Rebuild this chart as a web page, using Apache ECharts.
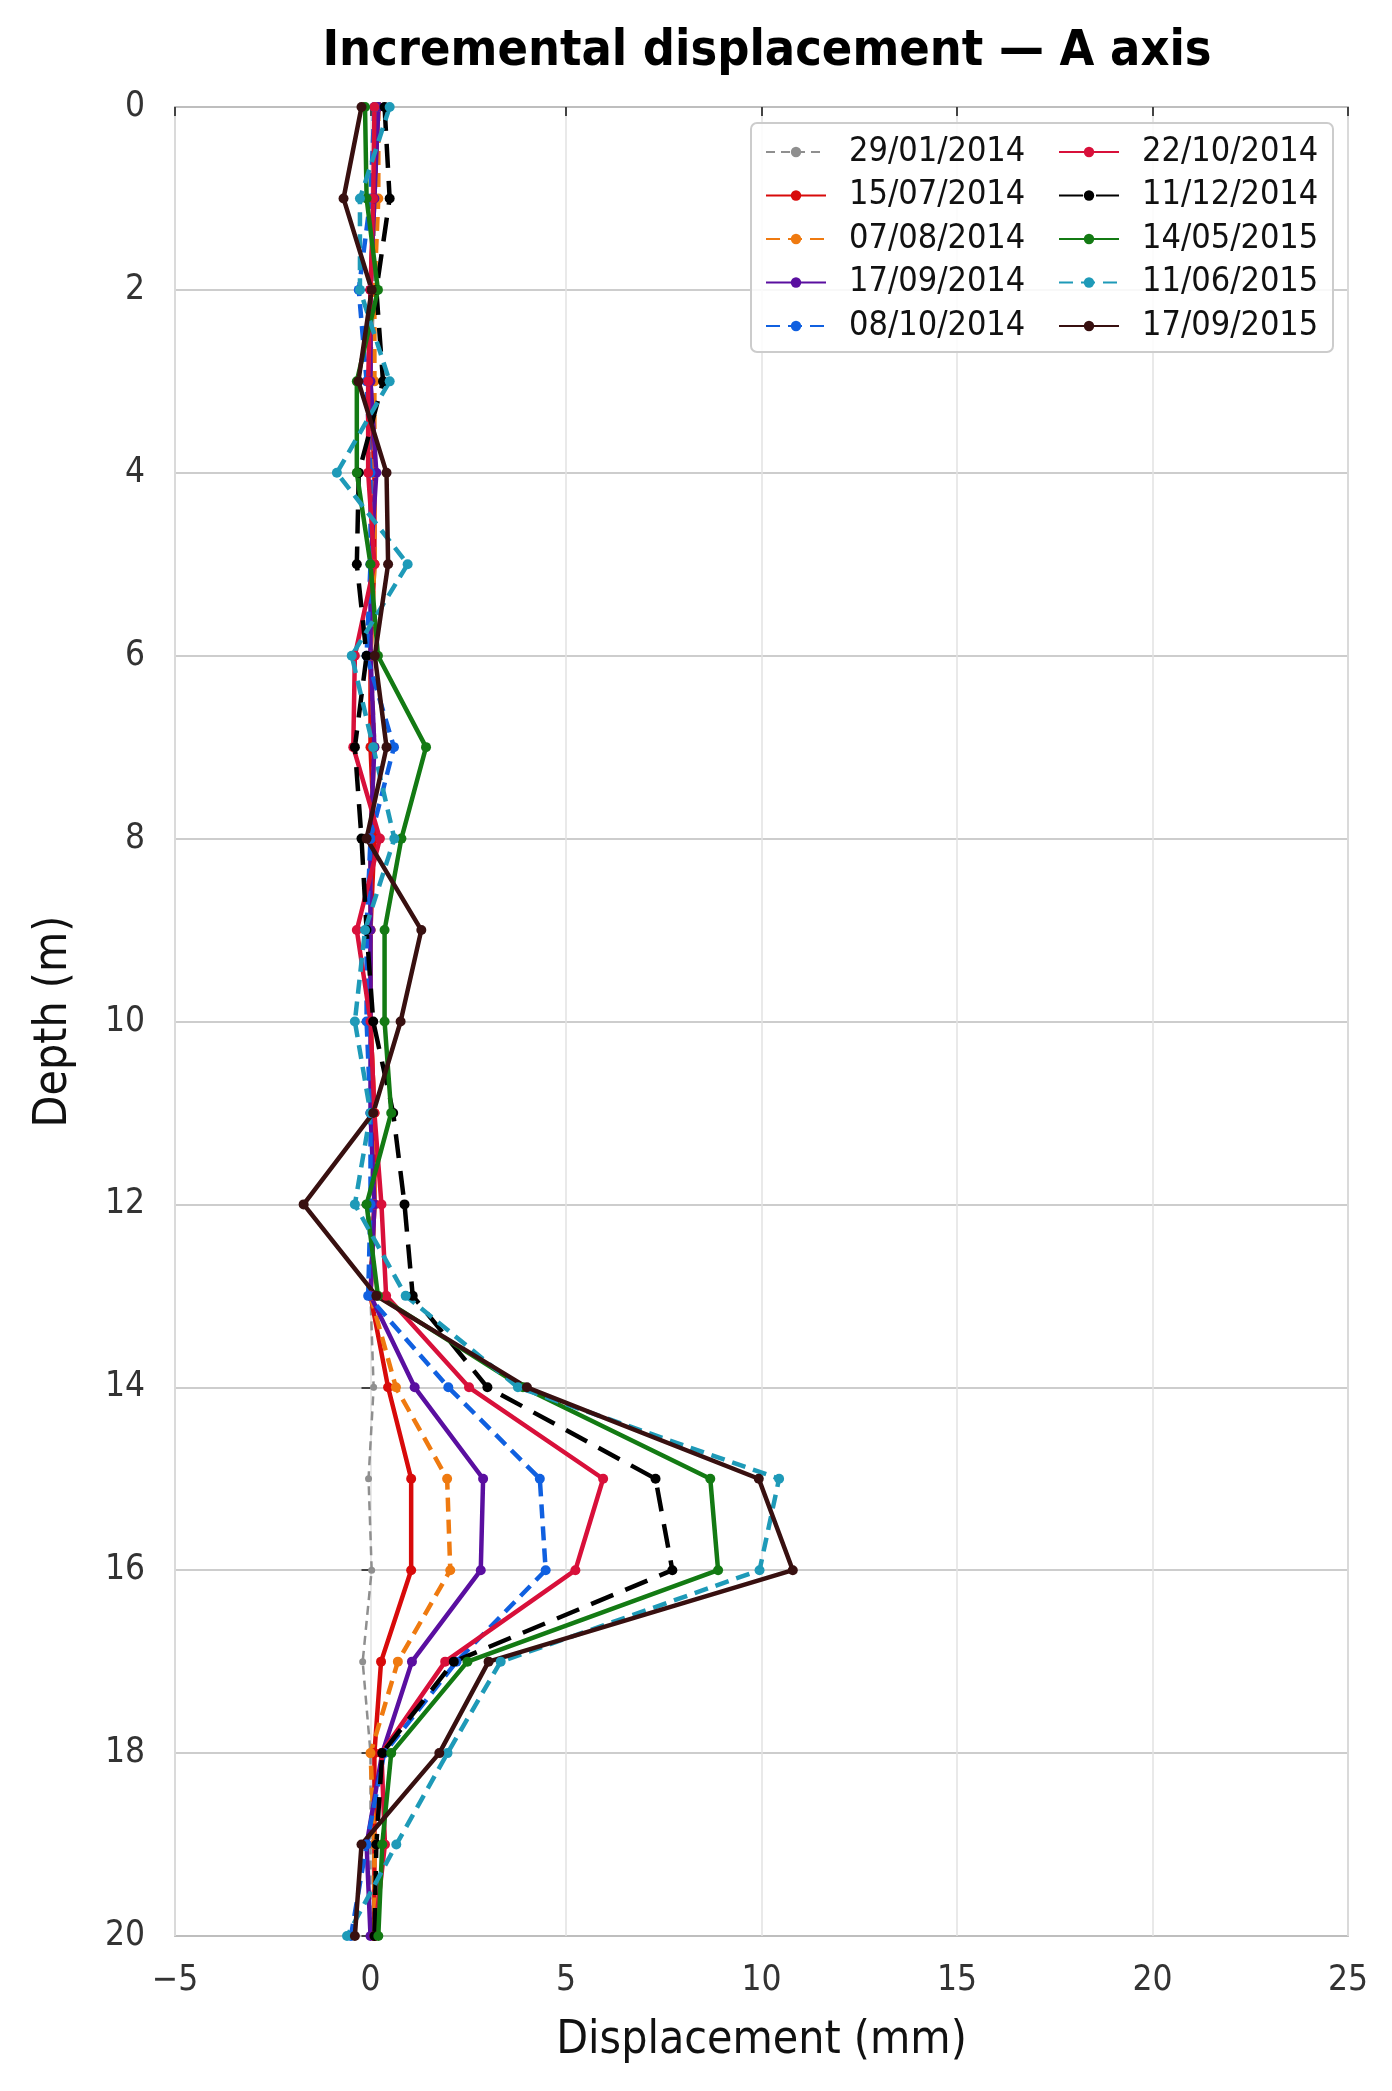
<!DOCTYPE html>
<html>
<head>
<meta charset="utf-8">
<title>Incremental displacement — A axis</title>
<script src="https://cdn.jsdelivr.net/npm/echarts@6/dist/echarts.min.js"></script>
<style>
  html, body { margin: 0; padding: 0; background: #fff; }
  #chart { width: 1392px; height: 2091px; }
</style>
</head>
<body>
<div id="chart"></div>
<script>
// depth of each reading (m)
const depths = [0, 1, 2, 3, 4, 5, 6, 7, 8, 9, 10, 11, 12, 13, 14, 15, 16, 17, 18, 19, 20]

// displacement per survey (mm), one value per depth
const d20140129 = [0.1, 0.1, 0.1, 0.0, 0.0, 0.1, 0.0, 0.1, 0.0, 0.0, 0.0, 0.1, 0.0, 0.0, 0.08, -0.05, 0.03, -0.2, 0.0, 0.0, 0.0]
const d20140715 = [0.2, 0.1, 0.0, 0.0, 0.1, 0.1, 0.0, 0.0, 0.1, 0.0, 0.0, 0.1, 0.1, 0.0, 0.45, 1.04, 1.04, 0.27, 0.1, 0.1, 0.1]
const d20140807 = [0.2, 0.2, 0.1, 0.1, 0.1, 0.1, 0.0, 0.1, 0.0, 0.0, 0.0, 0.1, 0.1, 0.0, 0.65, 1.96, 2.04, 0.7, 0.0, 0.1, 0.1]
const d20140917 = [0.2, 0.1, 0.0, 0.0, 0.15, 0.0, 0.0, 0.1, 0.0, 0.0, 0.0, 0.0, 0.1, 0.0, 1.13, 2.88, 2.82, 1.06, 0.3, -0.1, 0.0]
const d20141008 = [0.1, 0.0, -0.3, -0.1, 0.0, 0.0, -0.1, 0.6, 0.0, -0.1, -0.1, 0.0, 0.0, -0.06, 1.99, 4.33, 4.48, 2.2, 0.35, -0.1, -0.5]
const d20141022 = [0.1, 0.07, 0.0, -0.06, -0.06, 0.1, -0.4, -0.44, 0.24, -0.35, 0.0, 0.1, 0.28, 0.4, 2.52, 5.95, 5.24, 1.91, 0.28, 0.37, 0.1]
const d20141211 = [0.36, 0.49, 0.15, 0.32, -0.3, -0.35, -0.1, -0.4, -0.23, -0.1, 0.07, 0.58, 0.87, 1.08, 2.99, 7.29, 7.72, 2.13, 0.3, 0.15, 0.1]
const d20150514 = [-0.14, -0.1, 0.19, -0.35, -0.35, 0.0, 0.19, 1.42, 0.79, 0.36, 0.36, 0.53, -0.1, 0.19, 3.9, 8.69, 8.89, 2.48, 0.53, 0.3, 0.2]
const d20150611 = [0.49, -0.27, -0.27, 0.49, -0.86, 0.95, -0.48, 0.07, 0.61, -0.14, -0.4, 0.0, -0.4, 0.9, 3.77, 10.45, 9.95, 3.33, 1.97, 0.66, -0.6]
const d20150917 = [-0.23, -0.69, 0.03, -0.31, 0.41, 0.45, 0.11, 0.41, -0.1, 1.3, 0.77, 0.07, -1.71, 0.15, 4.0, 9.93, 10.8, 3.02, 1.76, -0.23, -0.4]

const xTicks = [-5, 0, 5, 10, 15, 20, 25]
const yTicks = [0, 2, 4, 6, 8, 10, 12, 14, 16, 18, 20]

const FONT = "'DejaVu Sans Condensed', 'DejaVu Sans', sans-serif"

// name, values, colour, line type, width
const surveys = [
  ['29/01/2014', d20140129, '#8f8f8f', [9, 6], 2.5],
  ['15/07/2014', d20140715, '#d80a0a', 'solid', 4.5],
  ['07/08/2014', d20140807, '#ef7a10', [14, 8], 4.5],
  ['17/09/2014', d20140917, '#5a0fa0', 'solid', 4.5],
  ['08/10/2014', d20141008, '#1060e0', [14, 8], 4.5],
  ['22/10/2014', d20141022, '#d8103a', 'solid', 4.5],
  ['11/12/2014', d20141211, '#000000', [24, 13], 4.5],
  ['14/05/2015', d20150514, '#137a13', 'solid', 4.5],
  ['11/06/2015', d20150611, '#1e9ab8', [14, 8], 4.5],
  ['17/09/2015', d20150917, '#381010', 'solid', 4.5]
]

const series = surveys.map(([name, vals, color, type, width]) => ({
  name: name,
  type: 'line',
  data: vals.map((v, i) => [v, depths[i]]),
  symbol: 'circle',
  symbolSize: width > 3 ? 10 : 7,
  color: color,
  lineStyle: { color: color, width: width, type: type },
  itemStyle: { color: color },
  emphasis: { disabled: true },
  animation: false
}))

const legendBase = {
  orient: 'vertical',
  top: 130,
  itemWidth: 60,
  itemHeight: 13,
  itemGap: 9.5,
  textStyle: { fontFamily: FONT, fontSize: 34, color: '#111', padding: [0, 0, 0, 18], lineHeight: 33 },
  selectedMode: false
}

const chart = echarts.init(document.getElementById('chart'))
chart.setOption({
  backgroundColor: '#fff',
  title: {
    text: 'Incremental displacement — A axis',
    left: 762,
    textAlign: 'center',
    top: 22,
    textStyle: { fontFamily: FONT, fontSize: 50, fontWeight: 'bold', color: '#000' }
  },
  legend: [
    Object.assign({}, legendBase, { left: 760, data: surveys.slice(0, 5).map(s => s[0]) }),
    Object.assign({}, legendBase, { left: 1053, data: surveys.slice(5).map(s => s[0]) })
  ],
  graphic: [{
    type: 'rect',
    shape: { x: 751, y: 123, width: 582, height: 229, r: 6 },
    style: { fill: 'rgba(255,255,255,0.85)', stroke: '#cccccc', lineWidth: 2 },
    z: 2
  }],
  grid: { left: 175, right: 44, top: 107, bottom: 155, show: true, borderColor: '#c4c4c4', borderWidth: 2 },
  xAxis: {
    type: 'value',
    min: xTicks[0],
    max: xTicks[xTicks.length - 1],
    interval: 5,
    name: 'Displacement (mm)',
    nameLocation: 'middle',
    nameGap: 82,
    nameTextStyle: { fontFamily: FONT, fontSize: 46, color: '#111' },
    axisLine: { show: false },
    axisTick: { show: true, length: 9, lineStyle: { color: '#444', width: 2 } },
    axisLabel: {
      fontFamily: FONT, fontSize: 35, color: '#333', margin: 27,
      formatter: v => (v < 0 ? '\u2212' + Math.abs(v) : String(v))
    },
    splitLine: { show: true, lineStyle: { color: '#e2e2e2', width: 1.5 } }
  },
  yAxis: {
    type: 'value',
    inverse: true,
    min: yTicks[0],
    max: yTicks[yTicks.length - 1],
    interval: 2,
    name: 'Depth (m)',
    nameLocation: 'middle',
    nameGap: 98,
    nameRotate: 90,
    nameTextStyle: { fontFamily: FONT, fontSize: 46, color: '#111' },
    axisLine: { show: false },
    axisTick: { show: true, length: 9, lineStyle: { color: '#444', width: 2 } },
    axisLabel: { fontFamily: FONT, fontSize: 35, color: '#333', margin: 30 },
    splitLine: { show: true, lineStyle: { color: '#bdbdbd', width: 1.5 } }
  },
  series: series
})
</script>
</body>
</html>
